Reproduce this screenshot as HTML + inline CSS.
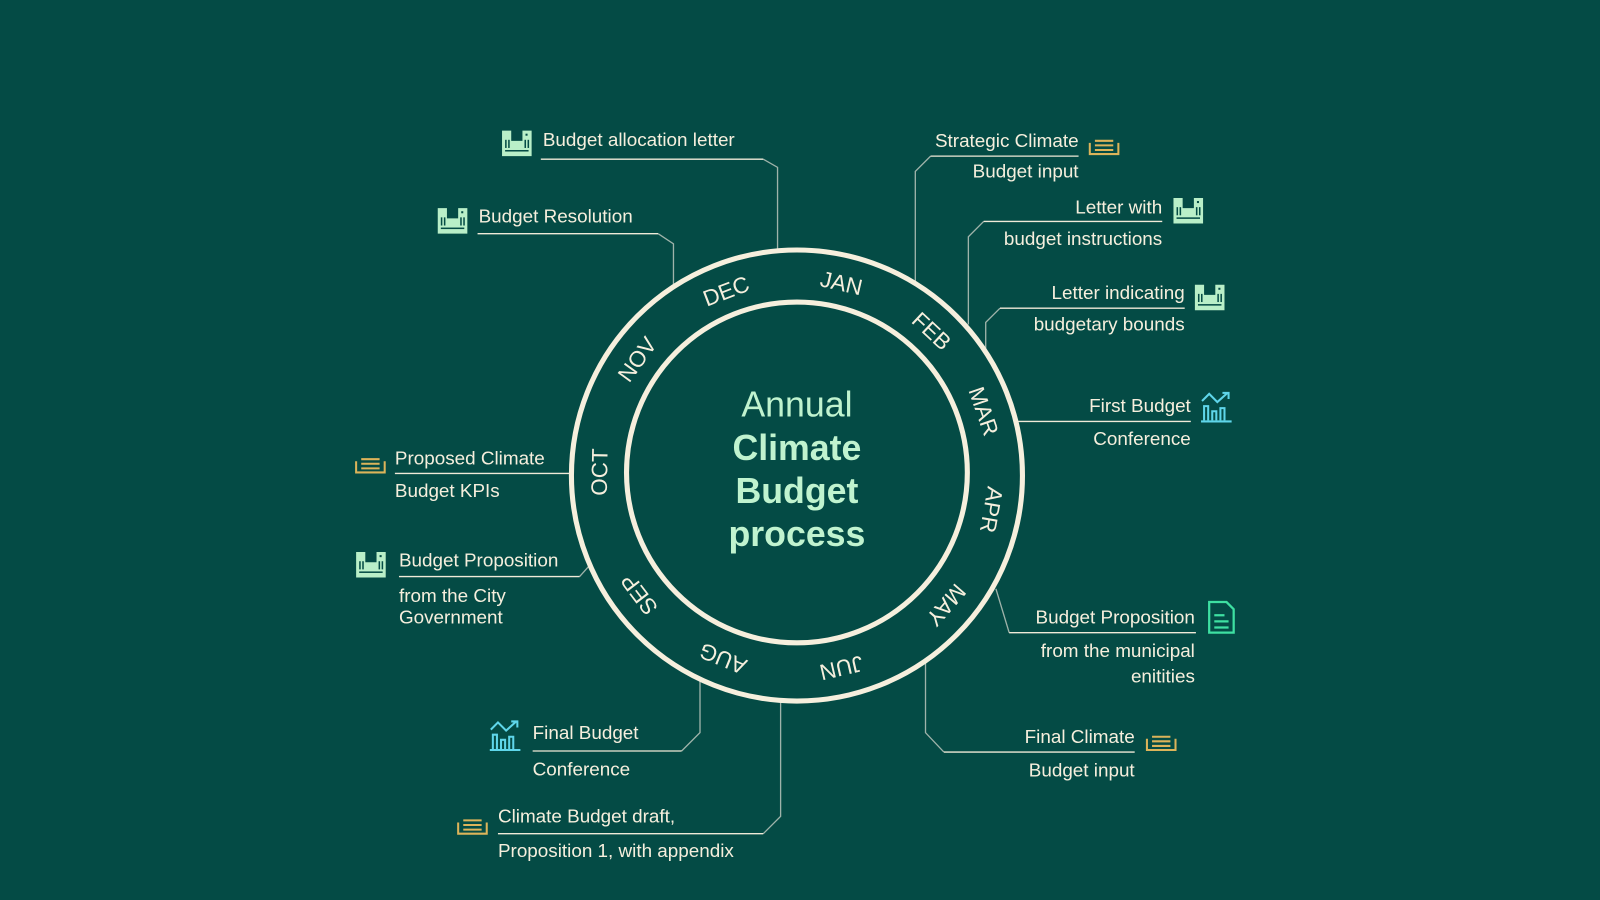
<!DOCTYPE html>
<html><head><meta charset="utf-8"><style>
html,body{margin:0;padding:0;background:#044b45;}
svg{display:block}
text{font-family:"Liberation Sans",sans-serif;fill:#f6efdd;font-size:18.5px}
</style></head><body>
<svg width="1600" height="900" viewBox="0 0 1568 882" xmlns="http://www.w3.org/2000/svg">
<defs>
<g id="bld">
<path d="M0 0h9v10h11v-10h9v25h-29z" fill="#b9efc8"/>
<g fill="#044b45"><rect x="3" y="9" width="1.5" height="8"/><rect x="6" y="9" width="1.5" height="8"/><rect x="22" y="9" width="1.5" height="8"/><rect x="25" y="9" width="1.5" height="8"/><rect x="3" y="19" width="23" height="1.5"/><rect x="23" y="3" width="2" height="2"/></g>
</g>
<g id="lst" fill="none" stroke="#dcb45a" stroke-width="2">
<path d="M1 6v11h28v-11"/><path d="M6 4h18M6 8.5h18M6 13h18"/>
</g>
<g id="chart" fill="none" stroke="#5fd6ea" stroke-width="2">
<path d="M0 29h30"/><path d="M3 28v-14h4v14M11 28v-9h4v9M19 28v-12h4v12"/><path d="M1 9l7-7 8 8 10-9M21 1h6v6"/>
</g>
</defs>

<g fill="none" stroke="#9fb3aa" stroke-width="1.3">
<path d="M748 156L762 164V244"/>
<path d="M645 229L660 239V282"/>
<path d="M897 276V168L912 153"/>
<path d="M949 318V232L964 217"/>
<path d="M966 342V316L980 302"/>
<path d="M976 577L989 620"/>
<path d="M907 650V718L925 737"/>
<path d="M765 688V800L748 817"/>
<path d="M686 667V718L668 736"/>
<path d="M577 555L568 565"/>
</g>
<g fill="none" stroke="#f0ead8" stroke-width="1.3">
<path d="M530 156H748"/>
<path d="M468 229H645"/>
<path d="M912 153H1057"/>
<path d="M964 217H1139"/>
<path d="M980 302H1161"/>
<path d="M998 413H1167"/>
<path d="M989 620H1172"/>
<path d="M925 737H1112"/>
<path d="M748 817H488"/>
<path d="M668 736H522"/>
<path d="M568 565H391"/>
<path d="M387 464H559"/>
</g>

<circle cx="781" cy="466" r="221" fill="none" stroke="#f6efdd" stroke-width="5"/>
<circle cx="781" cy="463" r="167" fill="none" stroke="#f6efdd" stroke-width="5"/>

<g style="font-size:22px">
<text style="font-size:22px" text-anchor="middle" transform="translate(781 466) rotate(-21) translate(0 -186)">DEC</text>
<text style="font-size:22px" text-anchor="middle" transform="translate(781 466) rotate(13) translate(0 -186)">JAN</text>
<text style="font-size:22px" text-anchor="middle" transform="translate(781 466) rotate(43) translate(0 -186)">FEB</text>
<text style="font-size:22px" text-anchor="middle" transform="translate(781 466) rotate(71) translate(0 -186)">MAR</text>
<text style="font-size:22px" text-anchor="middle" transform="translate(781 466) rotate(100) translate(0 -186)">APR</text>
<text style="font-size:22px" text-anchor="middle" transform="translate(781 466) rotate(131) translate(0 -186)">MAY</text>
<text style="font-size:22px" text-anchor="middle" transform="translate(781 466) rotate(167) translate(0 -186)">JUN</text>
<text style="font-size:22px" text-anchor="middle" transform="translate(781 466) rotate(202) translate(0 -186)">AUG</text>
<text style="font-size:22px" text-anchor="middle" transform="translate(781 466) rotate(233) translate(0 -186)">SEP</text>
<text style="font-size:22px" text-anchor="middle" transform="translate(781 466) rotate(271) translate(0 -186)">OCT</text>
<text style="font-size:22px" text-anchor="middle" transform="translate(781 466) rotate(306) translate(0 -186)">NOV</text>
</g>

<g text-anchor="middle">
<text x="781" y="408" style="font-size:35px;fill:#c0f3cf">Annual</text>
<text x="781" y="451" style="font-size:35px;font-weight:bold;fill:#c0f3cf">Climate</text>
<text x="781" y="493" style="font-size:35px;font-weight:bold;fill:#c0f3cf">Budget</text>
<text x="781" y="535" style="font-size:35px;font-weight:bold;fill:#c0f3cf">process</text>
</g>

<text x="532" y="143">Budget allocation letter</text>
<text x="469" y="218">Budget Resolution</text>
<text x="387" y="455">Proposed Climate</text>
<text x="387" y="487">Budget KPIs</text>
<text x="391" y="555">Budget Proposition</text>
<text x="391" y="590">from the City</text>
<text x="391" y="611">Government</text>
<text x="522" y="724">Final Budget</text>
<text x="522" y="760">Conference</text>
<text x="488" y="806">Climate Budget draft,</text>
<text x="488" y="840">Proposition 1, with appendix</text>

<g text-anchor="end">
<text x="1057" y="144">Strategic Climate</text>
<text x="1057" y="174">Budget input</text>
<text x="1139" y="209">Letter with</text>
<text x="1139" y="240">budget instructions</text>
<text x="1161" y="293">Letter indicating</text>
<text x="1161" y="324">budgetary bounds</text>
<text x="1167" y="404">First Budget</text>
<text x="1167" y="436">Conference</text>
<text x="1171" y="611">Budget Proposition</text>
<text x="1171" y="644">from the municipal</text>
<text x="1171" y="669">enitities</text>
<text x="1112" y="728">Final Climate</text>
<text x="1112" y="761">Budget input</text>
</g>

<use href="#bld" x="492" y="128"/>
<use href="#bld" x="429" y="204"/>
<use href="#bld" x="1150" y="194"/>
<use href="#bld" x="1171" y="279"/>
<use href="#bld" x="349" y="541"/>
<use href="#lst" x="1067" y="134"/>
<use href="#lst" x="348" y="446"/>
<use href="#lst" x="1123" y="718"/>
<use href="#lst" x="448" y="800"/>
<use href="#chart" x="1177" y="384"/>
<use href="#chart" x="480" y="706"/>
<g fill="none" stroke="#3ee0a2" stroke-width="2.2">
<path d="M1185 590h17l7 7v23h-24z"/><path d="M1190 603h10M1190 609h14M1190 615h14"/>
</g>
</svg>
</body></html>
